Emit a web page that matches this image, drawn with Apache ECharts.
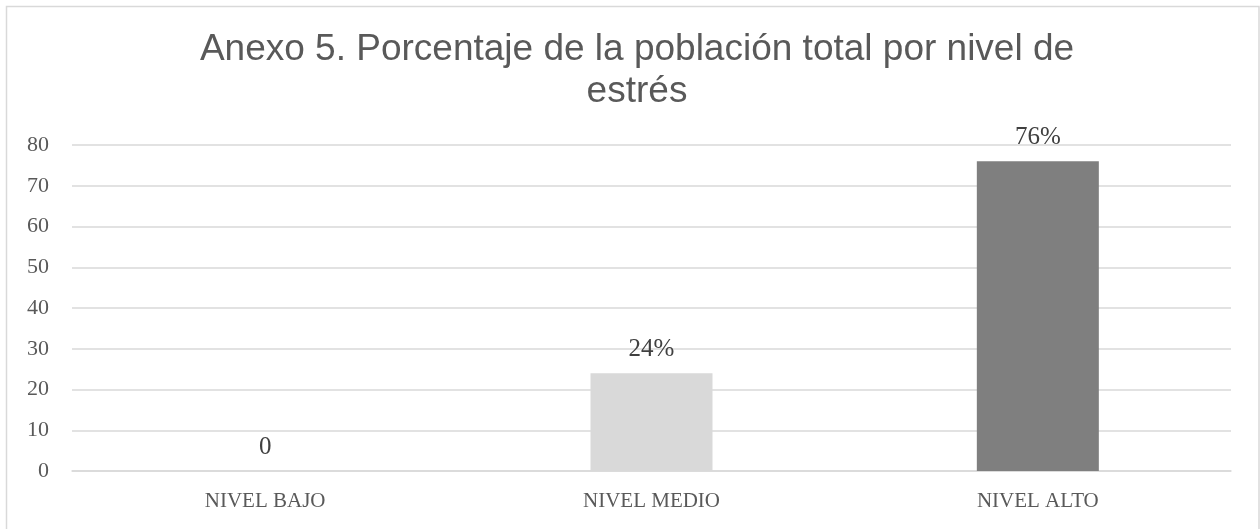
<!DOCTYPE html>
<html>
<head>
<meta charset="utf-8">
<script src="https://cdn.jsdelivr.net/npm/echarts@6/dist/echarts.min.js"></script>
<style>
  html, body { margin: 0; padding: 0; background: #fff; }
  #chart { width: 1260px; height: 529px; }
</style>
</head>
<body>
<div id="chart"></div>
<script>
// Stress level categories and share of the total population (%)
const categories = ['NIVEL BAJO', 'NIVEL MEDIO', 'NIVEL ALTO'];
const values = [0, 24, 76];
const valueLabels = ['0', '24%', '76%'];
const barColors = ['#d9d9d9', '#d9d9d9', '#7f7f7f'];
const titleText = 'Anexo 5. Porcentaje de la población total por nivel de\nestrés';

const serif = '"Liberation Serif", "DejaVu Serif", serif';
const textColor = '#595959';

const chart = echarts.init(document.getElementById('chart'), null, { renderer: 'canvas' });

chart.setOption({
  backgroundColor: '#ffffff',
  animation: false,
  title: {
    text: titleText,
    left: 632,
    top: 24,
    textAlign: 'center',
    textStyle: {
      fontFamily: '"Liberation Sans", Arial, sans-serif',
      fontSize: 37,
      fontWeight: 'normal',
      color: textColor,
      lineHeight: 42
    }
  },
  graphic: [{
    type: 'rect',
    silent: true,
    shape: { x: 6.5, y: 6.5, width: 1252.5, height: 540 },
    style: { fill: 'none', stroke: '#d9d9d9', lineWidth: 1.5 }
  }],
  grid: { left: 72, right: 29, top: 145, bottom: 58 },
  xAxis: {
    type: 'category',
    data: categories,
    axisLine: { lineStyle: { color: '#d9d9d9', width: 1.5 } },
    axisTick: { show: false },
    axisLabel: {
      color: textColor,
      fontFamily: serif,
      fontSize: 21,
      margin: 20
    }
  },
  yAxis: {
    type: 'value',
    min: 0,
    max: 80,
    interval: 10,
    axisLine: { show: false },
    axisTick: { show: false },
    splitLine: { lineStyle: { color: '#d9d9d9', width: 1.5 } },
    axisLabel: {
      color: textColor,
      fontFamily: serif,
      fontSize: 22,
      margin: 23
    }
  },
  series: [{
    type: 'bar',
    barWidth: 122,
    data: values.map((v, i) => ({
      value: v,
      itemStyle: { color: barColors[i] },
      label: { formatter: valueLabels[i] }
    })),
    label: {
      show: true,
      position: 'top',
      distance: 11,
      color: '#404040',
      fontFamily: serif,
      fontSize: 25
    }
  }]
});
</script>
</body>
</html>
